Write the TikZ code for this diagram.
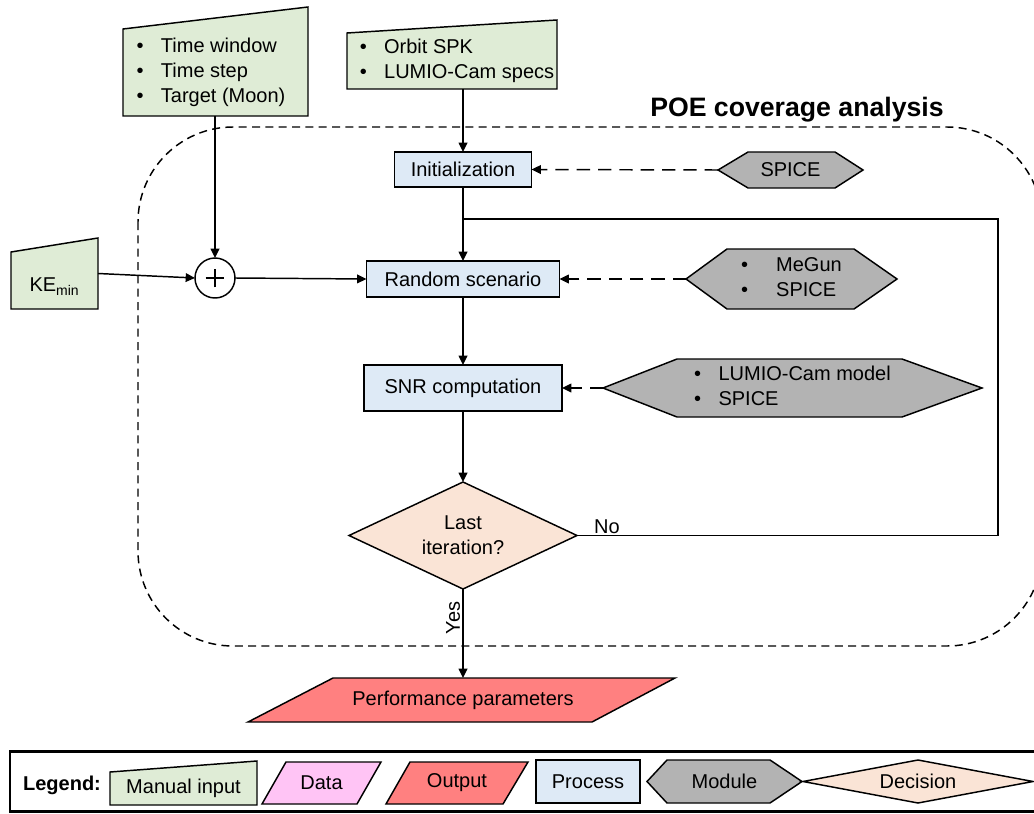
\documentclass[tikz,border=0pt]{standalone}
\usepackage{fontspec}
\setmainfont{Liberation Sans}
\usetikzlibrary{arrows.meta,backgrounds,calc}
\definecolor{mingreen}{RGB}{223,236,214}
\definecolor{procblue}{RGB}{222,234,246}
\definecolor{modgray}{RGB}{179,179,179}
\definecolor{decpeach}{RGB}{250,228,214}
\definecolor{outred}{RGB}{255,128,128}
\definecolor{datapink}{RGB}{255,196,245}
\newcommand{\bulletlist}[2][13pt]{\begin{tabular}{@{}l@{\hspace{#1}}l@{}}#2\end{tabular}}
\begin{document}
\begin{tikzpicture}[x=0.75pt,y=-0.75pt,line width=1.1pt,
  font=\fontsize{15}{18.75}\selectfont,
  sz/.style 2 args={minimum width=#1*0.75pt, minimum height=#2*0.75pt},
  blank/.style={inner sep=0pt, outer sep=0pt},
  proc/.style={draw, fill=procblue, inner sep=0pt, outer sep=0pt},
  shp/.style={draw=black, line width=1.1pt, line join=miter},
  minp/.style={shp, fill=mingreen},
  modl/.style={shp, fill=modgray},
  decs/.style={shp, fill=decpeach},
  outp/.style={shp, fill=outred},
  datas/.style={shp, fill=datapink},
  arr/.style={-{Triangle[length=7pt,width=6.5pt]}},
  darr/.style={arr, dash pattern=on 10pt off 6pt},
  grp/.style={draw=black, line width=1.1pt, dash pattern=on 6pt off 4pt}]
\useasboundingbox (0,0) rectangle (1034,813);

% ---------- nodes ----------
\node[font=\fontsize{20}{24}\selectfont\bfseries] (title) at (797,110) {POE coverage analysis};

\node[blank, sz={185}{87}] (tw) at (211,72.5)
  {\bulletlist{\textbullet & Time window\\ \textbullet & Time step\\ \textbullet & Target (Moon)}};
\node[blank, sz={210}{56}] (orb) at (457,61)
  {\bulletlist{\textbullet & Orbit SPK\\ \textbullet & LUMIO-Cam specs}};
\node[blank, sz={87}{71}, text height=27pt, text depth=0pt] (ke) at (54.5,273.5) {KE\textsubscript{min}};

\node[circle, draw, fill=white, minimum size=30pt, inner sep=0pt, outer sep=0pt,
  path picture={\draw[line width=1.8pt] ($(path picture bounding box.center)+(-7pt,0)$) -- ++(14pt,0);
                \draw[line width=1.8pt] ($(path picture bounding box.center)+(0,-7pt)$) -- ++(0,14pt);}]
  (plus) at (215,278) {};

\node[proc, sz={137}{35}] (init) at (463,169.5) {Initialization};
\node[proc, sz={193}{36}] (rand) at (463,279) {Random scenario};
\node[proc, sz={198}{46}] (snr) at (463,388) {SNR computation};
\node[blank, sz={228}{107}, align=center] (dec) at (463,535.5) {Last\\iteration?};
\node[blank, sz={250}{44}] (perf) at (463,700) {Performance parameters};

\node[blank, sz={145}{36}] (spice) at (790.5,170) {SPICE};
\node[blank, sz={211}{60}] (megun) at (791.5,279)
  {\bulletlist[21pt]{\textbullet & MeGun\\ \textbullet & SPICE}};
\node[blank, sz={379}{58}] (lumio) at (792.5,388)
  {\bulletlist{\textbullet & LUMIO-Cam model\\ \textbullet & SPICE}};

\node[anchor=base] (nolab) at (607,533) {No};
\node[rotate=90] (yeslab) at (453,618) {Yes};

\coordinate (junc) at (463,219);
\coordinate (loopc) at (998,219);

% legend
\node[draw, line width=2.2pt, sz={1035}{60}, inner sep=0pt] (legend) at (527.5,781.5) {};
\node[font=\fontsize{15}{18.75}\selectfont\bfseries] (legtitle) at (62,785) {Legend:};
\node[blank, sz={147}{33}] (lgman) at (183.5,788.5) {Manual input};
\node[blank, sz={119}{42}] (lgdata) at (321.5,783) {Data};
\node[blank, sz={142}{42}] (lgout) at (457,783) {Output};
\node[proc, sz={104}{43}] (lgproc) at (588,781.5) {Process};
\node[blank, sz={155}{43}] (lgmod) at (724.5,781.5) {Module};
\node[blank, sz={230}{43}] (lgdec) at (918,781.5) {Decision};

% ---------- shapes behind text ----------
\begin{scope}[on background layer]
\draw[grp, rounded corners=71.25pt] (138,127) rectangle (1042,646);
\draw[minp] (123,116) -- (308,116) -- (308,7) -- (123,29) -- cycle;
\draw[minp] (347,89) -- (557,89) -- (557,20) -- (347,33) -- cycle;
\draw[minp] (11,309) -- (98,309) -- (98,238) -- (11,252) -- cycle;
\draw[modl] (718,170) -- (748,152) -- (835,152) -- (863,170) -- (835,188) -- (748,188) -- cycle;
\draw[modl] (686,279) -- (727,249) -- (854,249) -- (897,279) -- (854,309) -- (727,309) -- cycle;
\draw[modl] (603,388) -- (677,359) -- (902,359) -- (982,388) -- (902,417) -- (677,417) -- cycle;
\draw[decs] (349,535.5) -- (463,482) -- (577,535.5) -- (463,589) -- cycle;
\draw[outp] (333,678) -- (675,678) -- (592,722) -- (248,722) -- cycle;
% legend shapes
\draw[minp] (110,805) -- (257,805) -- (257,761) -- (110,772) -- cycle;
\draw[datas] (286,762) -- (381,762) -- (357,804) -- (262,804) -- cycle;
\draw[outp] (410,762) -- (528,762) -- (503,804) -- (386,804) -- cycle;
\draw[modl] (647,781.5) -- (667,760) -- (770,760) -- (802,781.5) -- (770,803) -- (667,803) -- cycle;
\draw[decs] (803,781.5) -- (918,760) -- (1033,781.5) -- (918,803) -- cycle;
\end{scope}

% ---------- connectors ----------
\draw[arr] (tw.south -| plus.north) -- (plus.north);
\draw[arr] (ke.east) -- (plus.west);
\draw[arr] (plus.east) -- (rand.west);
\draw[arr] (orb.south -| init.north) -- (init.north);
\draw[arr] (init.south) -- (rand.north);
\draw[arr] (rand.south) -- (snr.north);
\draw[arr] (snr.south) -- (dec.north);
\draw[arr] (dec.south) -- (perf.north);
\draw (dec.east) -| (loopc) -- (junc);
\draw[darr] (spice.west) -- (init.east);
\draw[darr] (megun.west) -- (rand.east);
\draw[darr] (lumio.west) -- (snr.east);
\end{tikzpicture}
\end{document}
